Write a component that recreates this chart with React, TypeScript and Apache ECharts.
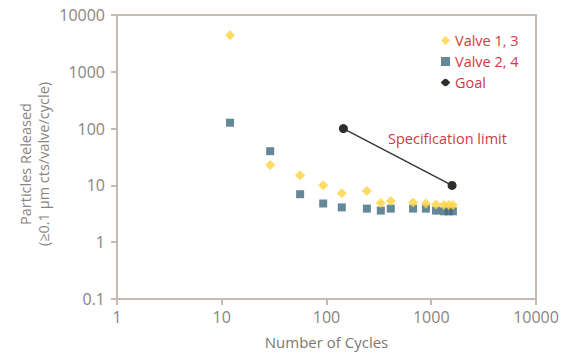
import React, { useEffect, useRef } from "react";
import * as echarts from "echarts";

const valve13Cycles = [12, 29, 56, 93, 140, 243, 330, 411, 671, 889, 1110, 1320, 1470, 1610];
const valve13Particles = [4400, 22.8, 15.1, 10.1, 7.3, 8.0, 4.9, 5.3, 5.0, 4.8, 4.6, 4.5, 4.5, 4.5];
const valve24Cycles = [12, 29, 56, 93, 140, 243, 330, 411, 671, 889, 1110, 1320, 1470, 1610];
const valve24Particles = [127, 40, 7.0, 4.8, 4.1, 3.9, 3.6, 3.9, 3.9, 3.9, 3.6, 3.5, 3.5, 3.5];
const goalCycles = [145, 1580];
const goalParticles = [100, 10];
const seriesNames = ["Valve 1, 3", "Valve 2, 4", "Goal"];
const xTitle = "Number of Cycles";
const yTitle = ["Particles Released", "(≥0.1 µm cts/valve/cycle)"];
const annotation = "Specification limit";

const FONT = "Open Sans";
const AXIS_COLOR = "#c4b9b3";
const LABEL_COLOR = "#8a847f";
const RED = "#cf3a44";

const GRID = { left: 117, top: 15, width: 419, height: 284 };

const fmt = (v: number) => (v < 1 ? v.toFixed(1) : String(Math.round(v)));

export default function App() {
  const ref = useRef<HTMLDivElement>(null);
  useEffect(() => {
    if (!ref.current) return;
    const chart = echarts.init(ref.current, undefined, { renderer: "svg" });
    const zip = (xs: number[], ys: number[]) => xs.map((x, i) => [x, ys[i]]);
    const frameAxis = {
      show: true,
      axisLine: { show: true, onZero: false, lineStyle: { color: AXIS_COLOR, width: 2 } },
      axisTick: { show: false },
      axisLabel: { show: false },
      splitLine: { show: false },
    };
    chart.setOption({
      animation: false,
      textStyle: { fontFamily: FONT },
      grid: { ...GRID },
      legend: {
        orient: "vertical",
        left: 435,
        top: 28,
        itemWidth: 9,
        itemHeight: 9,
        itemGap: 6,
        textStyle: { color: RED, fontSize: 14.5, fontFamily: FONT },
        data: seriesNames,
      },
      xAxis: [
        {
          type: "log",
          logBase: 10,
          min: 1,
          max: 10000,
          name: xTitle,
          nameLocation: "middle",
          nameGap: 35,
          nameTextStyle: { color: "#7d7772", fontSize: 15, fontFamily: FONT },
          axisLine: { show: true, onZero: false, lineStyle: { color: AXIS_COLOR, width: 2 } },
          axisTick: { show: true, inside: false, length: 6, lineStyle: { color: AXIS_COLOR, width: 2 } },
          axisLabel: { color: LABEL_COLOR, fontSize: 16, margin: 10, fontFamily: FONT, formatter: fmt },
          splitLine: { show: false },
        },
        { type: "value", min: 0, max: 1, position: "top", ...frameAxis },
      ],
      yAxis: [
        {
          type: "log",
          logBase: 10,
          min: 0.1,
          max: 10000,
          axisLine: { show: true, onZero: false, lineStyle: { color: AXIS_COLOR, width: 2 } },
          axisTick: { show: true, inside: false, length: 6, lineStyle: { color: AXIS_COLOR, width: 2 } },
          axisLabel: { color: LABEL_COLOR, fontSize: 16, margin: 12, fontFamily: FONT, formatter: fmt },
          splitLine: { show: false },
        },
        { type: "value", min: 0, max: 1, position: "right", ...frameAxis },
      ],
      graphic: [
        {
          type: "text",
          x: 34,
          y: 164,
          rotation: Math.PI / 2,
          style: {
            text: yTitle.join("\n"),
            fill: LABEL_COLOR,
            font: `14.5px ${FONT}`,
            align: "center",
            verticalAlign: "middle",
            lineHeight: 18,
          },
        },
        {
          type: "text",
          x: 388,
          y: 138,
          style: {
            text: annotation,
            fill: RED,
            font: `14.5px ${FONT}`,
            align: "left",
            verticalAlign: "middle",
          },
        },
      ],
      series: [
        {
          name: seriesNames[0],
          type: "scatter",
          symbol: "diamond",
          symbolSize: 10,
          itemStyle: { color: "#ffd23f" },
          data: zip(valve13Cycles, valve13Particles),
          z: 3,
        },
        {
          name: seriesNames[1],
          type: "scatter",
          symbol: "rect",
          symbolSize: 8,
          itemStyle: { color: "#3d6a7e" },
          data: zip(valve24Cycles, valve24Particles),
          z: 2,
        },
        {
          name: seriesNames[2],
          type: "line",
          symbol: "circle",
          symbolSize: 9,
          showSymbol: true,
          itemStyle: { color: "#2f2d29" },
          lineStyle: { color: "#3a3836", width: 1.5 },
          data: zip(goalCycles, goalParticles),
          z: 4,
        },
      ],
    });
    return () => chart.dispose();
  }, []);
  return (
    <div
      ref={ref}
      style={{ position: "absolute", left: 0, top: 0, width: 565, height: 354 }}
    />
  );
}
